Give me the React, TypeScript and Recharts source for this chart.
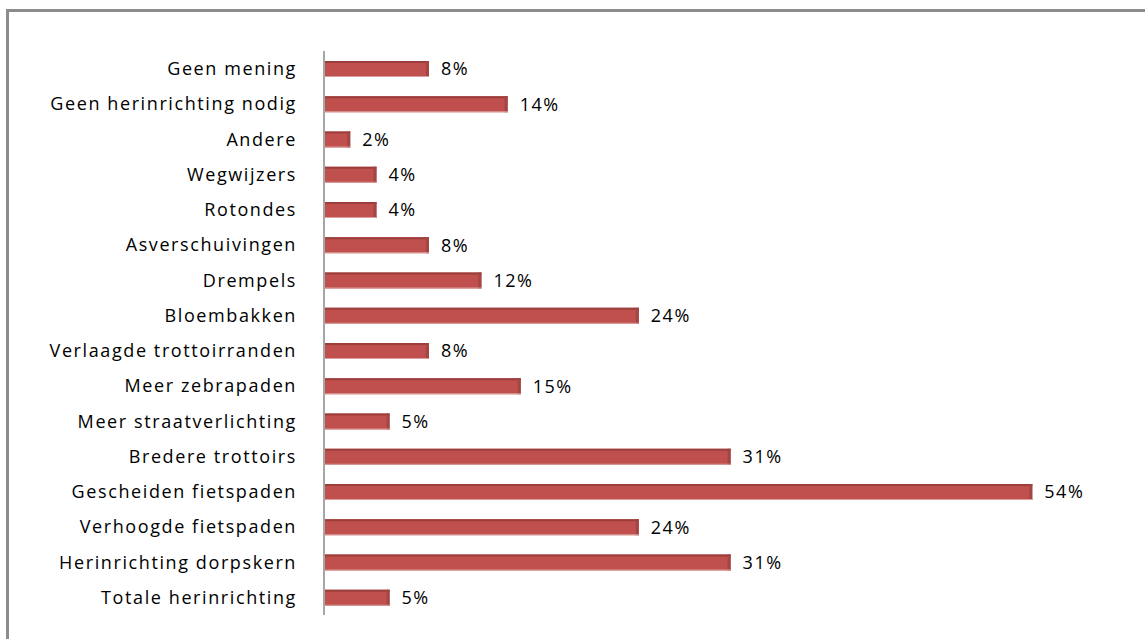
import React from "react";
import { BarChart, Bar, XAxis, YAxis, LabelList } from "recharts";

// categories top to bottom, as in the picture
const categories = [
  "Geen mening",
  "Geen herinrichting nodig",
  "Andere",
  "Wegwijzers",
  "Rotondes",
  "Asverschuivingen",
  "Drempels",
  "Bloembakken",
  "Verlaagde trottoirranden",
  "Meer zebrapaden",
  "Meer straatverlichting",
  "Bredere trottoirs",
  "Gescheiden fietspaden",
  "Verhoogde fietspaden",
  "Herinrichting dorpskern",
  "Totale herinrichting",
];

const percentages = [8, 14, 2, 4, 4, 8, 12, 24, 8, 15, 5, 31, 54, 24, 31, 5];

const data = categories.map((name, i) => ({ name, value: percentages[i] }));

const FONT = "'Open Sans', 'DejaVu Sans', sans-serif";

// bar with a small darker side to mimic the 3D look
const Bar3D = (props: any) => {
  const { x, y, width, height } = props;
  if (width <= 0) return null;
  return (
    <g>
      <rect x={x} y={y} width={width} height={height} fill="#c0504d" />
      <rect x={x} y={y} width={width} height={2} fill="#9c3f3c" />
      <rect x={x + width - 3} y={y} width={3} height={height} fill="#a34542" />
      <rect x={x} y={y + height - 1} width={width} height={1} fill="#d9a09e" />
    </g>
  );
};

export default function App() {
  return (
    <div
      style={{
        position: "absolute",
        left: 0,
        top: 0,
        width: 1145,
        height: 639,
        background: "#fff",
        overflow: "hidden",
      }}
    >
      <div
        style={{
          position: "absolute",
          left: 6,
          top: 9,
          width: 1200,
          height: 700,
          borderTop: "3px solid #8c8c8c",
          borderLeft: "3px solid #8c8c8c",
        }}
      />
      <div style={{ position: "absolute", left: 0, top: 0 }}>
        <BarChart
          width={1145}
          height={639}
          data={data}
          layout="vertical"
          margin={{ top: 51, right: 34, bottom: 24, left: 0 }}
          barSize={16}
        >
          <XAxis type="number" domain={[0, 60]} hide />
          <YAxis
            type="category"
            dataKey="name"
            width={324}
            interval={0}
            tickSize={0}
            tickMargin={27}
            axisLine={{ stroke: "#a6a6a6", strokeWidth: 2 }}
            tick={{
              fill: "#000",
              fontSize: 18,
              fontFamily: FONT,
              letterSpacing: 1.6,
            }}
          />
          <Bar dataKey="value" shape={<Bar3D />} isAnimationActive={false}>
            <LabelList
              dataKey="value"
              position="right"
              offset={12}
              formatter={(v: any) => `${v}%`}
              style={{
                fill: "#000",
                fontSize: 18,
                fontFamily: FONT,
                letterSpacing: 1.5,
              }}
            />
          </Bar>
        </BarChart>
      </div>
    </div>
  );
}
